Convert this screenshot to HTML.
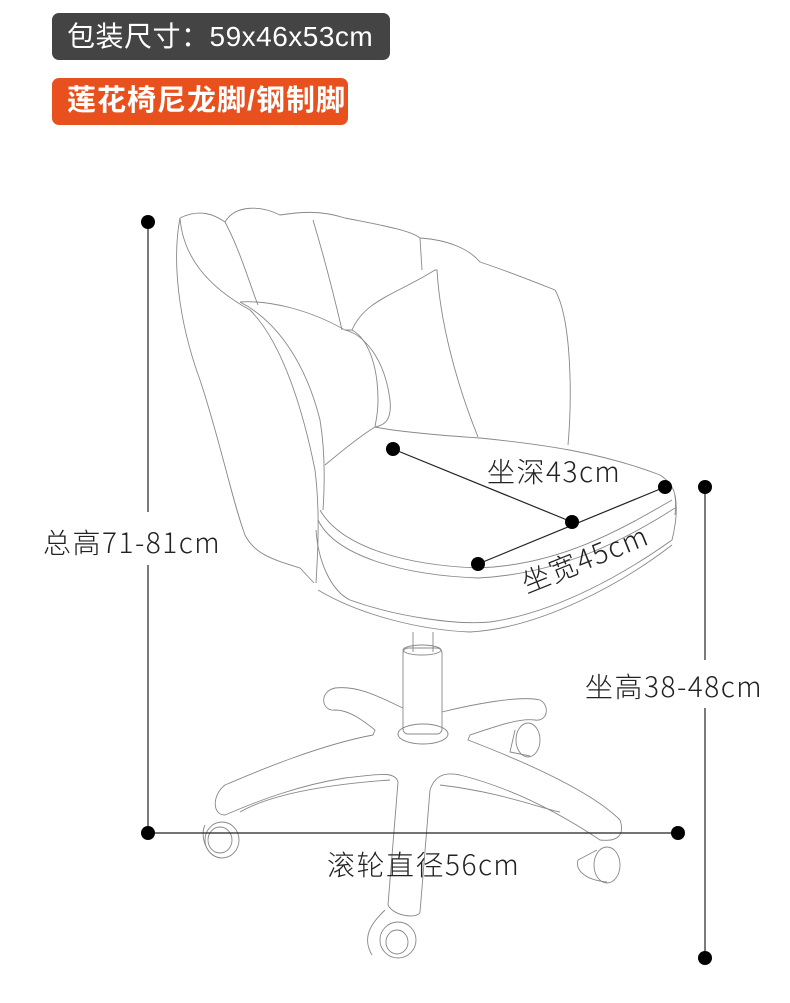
<!DOCTYPE html>
<html><head><meta charset="utf-8"><style>
html,body{margin:0;padding:0;background:#fff;}
body{width:790px;height:1003px;position:relative;overflow:hidden;font-family:"Liberation Sans","Noto Sans CJK SC",sans-serif;}
.tag{position:absolute;color:#fff;font-size:28px;line-height:47px;border-radius:7px;padding-left:15px;box-sizing:border-box;letter-spacing:0.5px;}
.lbl{position:absolute;color:#222;font-size:28px;letter-spacing:1.5px;font-family:"Noto Sans CJK SC",sans-serif;font-weight:300;white-space:nowrap;}
</style></head><body>
<div class="tag" style="left:52px;top:13px;width:338px;height:47px;background:#444;">包装尺寸：59x46x53cm</div>
<div class="tag" style="left:52px;top:78px;width:296px;height:47px;background:#e8501e;font-weight:bold;font-size:29px;letter-spacing:1px;">莲花椅尼龙脚/钢制脚</div>

<svg width="790" height="1003" style="position:absolute;left:0;top:0" fill="none" stroke="#888" stroke-width="0.9">
<path d="M180,218 C200,208 215,215 225,222 C235,205 260,205 280,215 C300,212 320,210 345,218 C380,225 410,230 420,238 C450,240 470,250 480,262 C510,272 535,282 555,290 C572,320 572,400 568,445"/>
<path d="M180,218 C172,260 178,320 200,380 C220,440 232,500 245,535 C255,555 275,560 300,568 L314,583"/>
<path d="M180,218 C183,255 205,285 250,310 C285,345 305,420 315,470 C320,510 318,550 316,583"/>
<path d="M225,222 C240,250 250,285 258,305"/><path d="M313,220 C325,260 335,300 342,330"/>
<path d="M420,238 L422,270"/>
<path d="M240,302 C270,300 310,310 345,330 L352,330 C365,300 395,295 435,270 L437,270 C440,320 455,380 478,437"/>
<path d="M240,302 C275,320 305,360 320,420 C325,450 325,480 323,510"/>
<path d="M345,330 C365,335 385,360 390,400 C392,420 385,425 375,427"/>
<path d="M352,330 C370,340 378,370 378,400 C378,415 375,425 375,427 C370,430 355,440 325,465"/>
<path d="M375,427 C400,432 450,436 480,438 C540,444 600,452 660,475 C675,485 677,495 675,515"/>
<path d="M320,510 C340,545 400,565 478,568 C560,565 620,530 672,500"/>
<path d="M318,520 C335,555 400,575 478,578 C560,574 625,540 675,508"/>
<path d="M316,530 C318,560 330,590 350,600 C400,618 460,625 490,622 C560,612 630,570 672,540 C677,520 677,505 675,495"/>
<path d="M318,590 C360,615 420,630 470,632 C540,628 620,585 672,545"/>
<path d="M413,632 L413,652 M433,632 L433,652"/>
<rect x="403" y="648" width="39" height="86" rx="5"/>
<ellipse cx="422" cy="650" rx="19" ry="5"/>
<ellipse cx="423" cy="734" rx="25" ry="10"/>
<path d="M403,708 C385,700 360,685 335,688 C318,692 322,712 335,710 C350,710 365,722 375,730 L373,735 C320,745 260,770 225,785 C212,795 212,815 225,815 C260,800 300,785 345,778 C375,775 395,770 398,782 L388,905 C395,918 420,918 420,912 L430,790 C435,775 445,772 460,775 C520,790 570,820 600,840 C618,842 625,835 620,820 C590,790 520,760 468,740 L470,735 C500,725 520,718 535,720 C548,722 550,705 540,700 C520,695 470,705 442,712"/>
<path d="M240,812 C270,795 320,785 390,780"/><path d="M440,785 C500,792 540,808 560,812"/>
<ellipse cx="222" cy="840" rx="17" ry="18"/><ellipse cx="220" cy="840" rx="12" ry="13"/><path d="M205,825 C200,835 205,855 220,858"/>
<ellipse cx="607" cy="865" rx="13" ry="18"/><path d="M597,850 L578,860 C575,870 585,880 607,882"/>
<ellipse cx="398" cy="940" rx="18" ry="18"/><ellipse cx="397" cy="942" rx="11" ry="12"/><path d="M385,910 C375,920 360,935 372,955"/>
<ellipse cx="528" cy="740" rx="12" ry="17"/><path d="M515,730 L510,752 L530,756"/>
<g stroke="#222" stroke-width="1.2">
<line x1="148" y1="222" x2="148" y2="512"/><line x1="148" y1="565" x2="148" y2="833"/>
<line x1="148" y1="833" x2="678" y2="833"/>
<line x1="705" y1="487" x2="705" y2="660"/><line x1="705" y1="708" x2="705" y2="958"/>
<line x1="393" y1="449" x2="572" y2="522"/>
<line x1="478" y1="564" x2="665" y2="487"/>
</g>
<g fill="#000" stroke="none">
<circle cx="148" cy="222" r="7"/><circle cx="148" cy="833" r="7"/><circle cx="678" cy="833" r="7"/>
<circle cx="705" cy="487" r="7"/><circle cx="705" cy="958" r="7"/>
<circle cx="393" cy="449" r="7"/><circle cx="572" cy="522" r="7"/>
<circle cx="478" cy="564" r="7"/><circle cx="665" cy="487" r="7"/>
</g>
</svg>
<div class="lbl" style="left:43px;top:522px;">总高71-81cm</div>
<div class="lbl" style="left:487px;top:451px;">坐深43cm</div>
<div class="lbl" style="left:530px;top:562px;transform:rotate(-22deg);transform-origin:left bottom;">坐宽45cm</div>
<div class="lbl" style="left:585px;top:666px;">坐高38-48cm</div>
<div class="lbl" style="left:327px;top:844px;">滚轮直径56cm</div>
</body></html>
